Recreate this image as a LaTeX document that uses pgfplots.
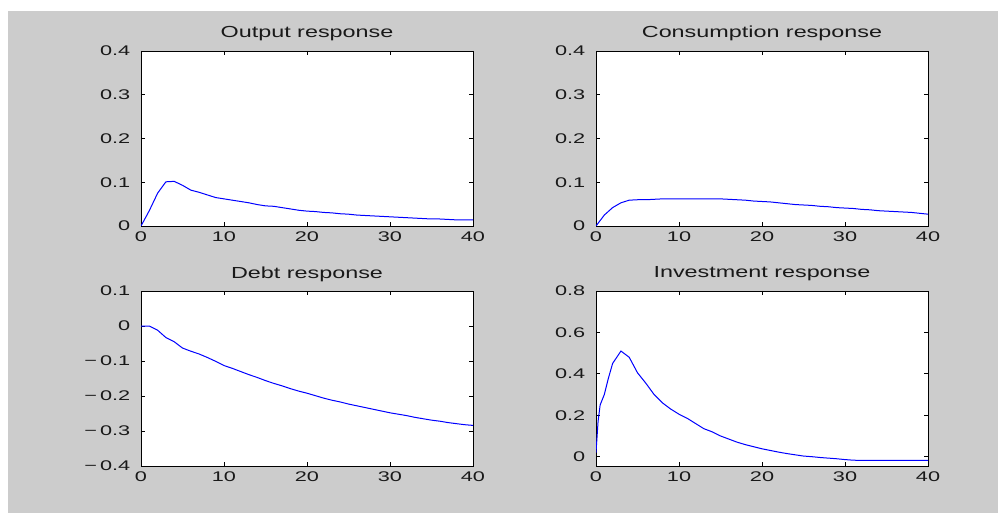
\documentclass[border=0pt]{standalone}
\usepackage{fontspec}
\usepackage{pgfplots}
\pgfplotsset{compat=1.18}
\newfontfamily\ticfam[FakeStretch=1.55]{Liberation Sans}
\newfontfamily\titfam[FakeStretch=1.46]{Liberation Sans}
\newcommand{\ticfont}{\ticfam\fontsize{14}{16}\selectfont}
\newcommand{\titfont}{\titfam\fontsize{16}{19}\selectfont}
\newcommand{\mn}{−\kern3pt}
\definecolor{bggray}{RGB}{204,204,204}
\definecolor{mblue}{RGB}{0,0,255}
\definecolor{txt}{RGB}{25,25,25}

\pgfplotsset{
  mat/.style={
    anchor=south west, scale only axis, width=332pt, height=175pt,
    xmin=0, xmax=40, xtick={0,10,20,30,40},
    xticklabels={0,10,20,30,40},
    tick align=inside, tick pos=both,
    major tick length=4pt,
    every tick/.style={black, line width=0.8pt},
    axis line style={black, line width=0.9pt},
    axis background/.style={fill=white},
    tick label style={font=\ticfont, inner sep=0pt, text=txt},
    xticklabel style={anchor=north, yshift=-6pt},
    yticklabel style={anchor=east, xshift=-10.5pt},
    title style={at={(0.5,1)}, anchor=base, yshift=7pt, inner sep=0pt, font=\titfont, text=txt},
    /pgf/number format/assume math mode=true,
    every axis plot/.append style={mblue, line width=1pt, no marks},
  }
}

\begin{document}
\begin{tikzpicture}[x=1pt,y=1pt]
\useasboundingbox (0,0) rectangle (1008,513);
\fill[white] (0,0) rectangle (1008,513);
\fill[bggray] (8,0) rectangle (998,502);

% Output response
\begin{axis}[mat, at={(141pt,287pt)}, title={Output response},
  ymin=0, ymax=0.4, ytick={0,0.1,0.2,0.3,0.4},
  yticklabels={0,0.1,0.2,0.3,0.4}]
\addplot coordinates {
(0,0) (1,0.035) (2,0.075) (3,0.101) (4,0.102) (5,0.093) (6,0.082) (7,0.077)
(8,0.071) (9,0.065) (10,0.062) (11,0.059) (12,0.056) (13,0.053) (14,0.049)
(15,0.046) (16,0.045) (17,0.042) (18,0.039) (19,0.036) (20,0.034) (21,0.033)
(22,0.031) (23,0.030) (24,0.028) (25,0.027) (26,0.025) (27,0.024) (28,0.023)
(29,0.022) (30,0.021) (31,0.020) (32,0.019) (33,0.018) (34,0.017) (35,0.016)
(36,0.016) (37,0.015) (38,0.014) (39,0.014) (40,0.014)
};
\end{axis}

% Consumption response
\begin{axis}[mat, at={(596pt,287pt)}, title={Consumption response},
  ymin=0, ymax=0.4, ytick={0,0.1,0.2,0.3,0.4},
  yticklabels={0,0.1,0.2,0.3,0.4}]
\addplot coordinates {
(0,0) (1,0.025) (2,0.042) (3,0.053) (4,0.059) (5,0.060) (6,0.060) (7,0.061)
(8,0.062) (9,0.062) (10,0.062) (11,0.062) (12,0.062) (13,0.062) (14,0.062)
(15,0.062) (16,0.061) (17,0.060) (18,0.059) (19,0.057) (20,0.056) (21,0.055)
(22,0.053) (23,0.051) (24,0.049) (25,0.048) (26,0.047) (27,0.045) (28,0.044)
(29,0.042) (30,0.041) (31,0.040) (32,0.038) (33,0.037) (34,0.035) (35,0.034)
(36,0.033) (37,0.032) (38,0.031) (39,0.029) (40,0.027)
};
\end{axis}

% Debt response
\begin{axis}[mat, at={(141pt,47pt)}, title={Debt response},
  ymin=-0.4, ymax=0.1, ytick={-0.4,-0.3,-0.2,-0.1,0,0.1},
  yticklabels={\mn0.4,\mn0.3,\mn0.2,\mn0.1,0,0.1}]
\addplot coordinates {
(0,0) (1,0) (2,-0.012) (3,-0.033) (4,-0.045) (5,-0.063) (6,-0.072) (7,-0.080)
(8,-0.090) (9,-0.101) (10,-0.113) (11,-0.121) (12,-0.130) (13,-0.139) (14,-0.147)
(15,-0.156) (16,-0.164) (17,-0.171) (18,-0.179) (19,-0.186) (20,-0.192) (21,-0.199)
(22,-0.206) (23,-0.212) (24,-0.217) (25,-0.223) (26,-0.228) (27,-0.233) (28,-0.238)
(29,-0.243) (30,-0.248) (31,-0.252) (32,-0.256) (33,-0.261) (34,-0.265) (35,-0.269)
(36,-0.272) (37,-0.276) (38,-0.279) (39,-0.282) (40,-0.284)
};
\end{axis}

% Investment response
\begin{axis}[mat, at={(596pt,47pt)}, title={Investment response},
  ymin=-0.045, ymax=0.8, ytick={0,0.2,0.4,0.6,0.8},
  yticklabels={0,0.2,0.4,0.6,0.8}]
\addplot coordinates {
(0,0.02) (0.25,0.17) (0.5,0.25) (1,0.30) (1.5,0.38) (2,0.45) (3,0.51) (4,0.48)
(5,0.405) (6,0.355) (7,0.30) (8,0.26) (9,0.23) (10,0.205) (11,0.185) (12,0.16)
(13,0.135) (14,0.12) (15,0.10) (16,0.085) (17,0.07) (18,0.058) (19,0.048)
(20,0.038) (21,0.03) (22,0.022) (23,0.015) (24,0.009) (25,0.003) (26,0.0)
(27,-0.004) (28,-0.007) (29,-0.01) (30,-0.014) (31,-0.017) (32,-0.018)
(34,-0.018) (36,-0.018) (38,-0.018) (40,-0.018)
};
\end{axis}
\end{tikzpicture}
\end{document}
